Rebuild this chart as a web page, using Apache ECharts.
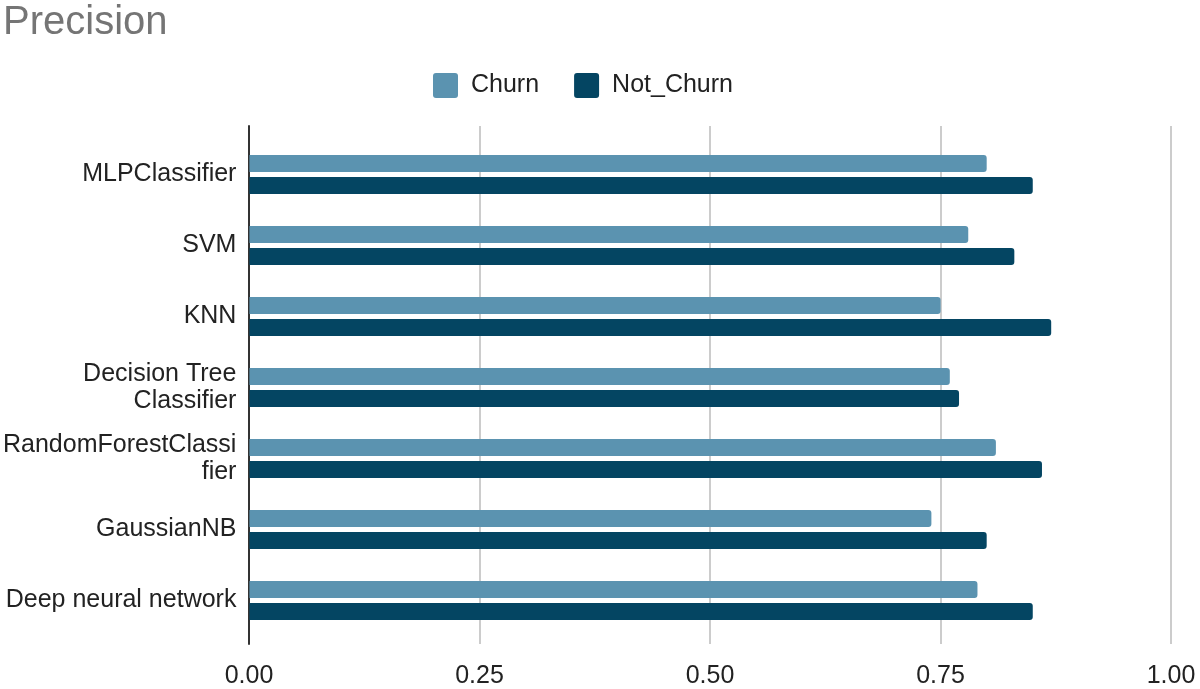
<!DOCTYPE html>
<html>
<head>
<meta charset="utf-8">
<script src="https://cdn.jsdelivr.net/npm/echarts@6/dist/echarts.min.js"></script>
<style>
  html, body { margin: 0; padding: 0; background: #fff; }
  #chart { width: 1200px; height: 689px; }
</style>
</head>
<body>
<div id="chart"></div>
<script>
var models = ['MLPClassifier', 'SVM', 'KNN', 'Decision Tree\nClassifier',
  'RandomForestClassi\nfier', 'GaussianNB', 'Deep neural network'];
var churn = [0.80, 0.78, 0.75, 0.76, 0.81, 0.74, 0.79];
var notChurn = [0.85, 0.83, 0.87, 0.77, 0.86, 0.80, 0.85];

var font = '"Liberation Sans", Arial, sans-serif';
var myChart = echarts.init(document.getElementById('chart'));

var option = {
  title: {
    text: 'Precision',
    left: 0, top: 3, padding: [0, 3],
    textStyle: { fontFamily: font, fontSize: 40, fontWeight: 'normal', color: '#757575' }
  },
  legend: {
    data: ['Churn', 'Not_Churn'],
    left: 433, top: 73, padding: 0,
    itemWidth: 25, itemHeight: 25, itemGap: 35,
    icon: 'path://M3,0H22Q25,0 25,3V22Q25,25 22,25H3Q0,25 0,22V3Q0,0 3,0Z',
    textStyle: { fontFamily: font, fontSize: 25, color: '#222', padding: [0, 0, 0, 8] }
  },
  grid: [
    // frame: axis line + split lines
    { left: 249, right: 29, top: 126, bottom: 41 },
    // bars
    { left: 249, right: 29, top: 139, bottom: 53 }
  ],
  xAxis: [
    {
      gridIndex: 0, type: 'value', min: 0, max: 1, interval: 0.25,
      axisLine: { show: false }, axisTick: { show: false },
      splitLine: { lineStyle: { color: '#cccccc', width: 2 } },
      axisLabel: {
        fontFamily: font, fontSize: 25, color: '#222', margin: 20,
        formatter: function (v) { return v.toFixed(2); }
      }
    },
    {
      gridIndex: 1, type: 'value', min: 0, max: 1, show: false
    }
  ],
  yAxis: [
    {
      gridIndex: 0, type: 'category', data: models, inverse: true,
      axisLine: { show: true, lineStyle: { color: '#333', width: 2 } },
      axisTick: { show: false }, axisLabel: { show: false }
    },
    {
      gridIndex: 1, type: 'category', data: models, inverse: true,
      axisLine: { show: false }, axisTick: { show: false },
      axisLabel: {
        fontFamily: font, fontSize: 25, color: '#222', margin: 13,
        lineHeight: 27, align: 'right'
      }
    }
  ],
  series: [
    {
      name: 'Churn', type: 'bar', xAxisIndex: 1, yAxisIndex: 1,
      data: churn, barWidth: 17, barGap: '30%',
      itemStyle: { color: '#5b93b0', borderRadius: [0, 3, 3, 0] }
    },
    {
      name: 'Not_Churn', type: 'bar', xAxisIndex: 1, yAxisIndex: 1,
      data: notChurn, barWidth: 17,
      itemStyle: { color: '#044562', borderRadius: [0, 3, 3, 0] }
    }
  ]
};
myChart.setOption(option);
</script>
</body>
</html>
